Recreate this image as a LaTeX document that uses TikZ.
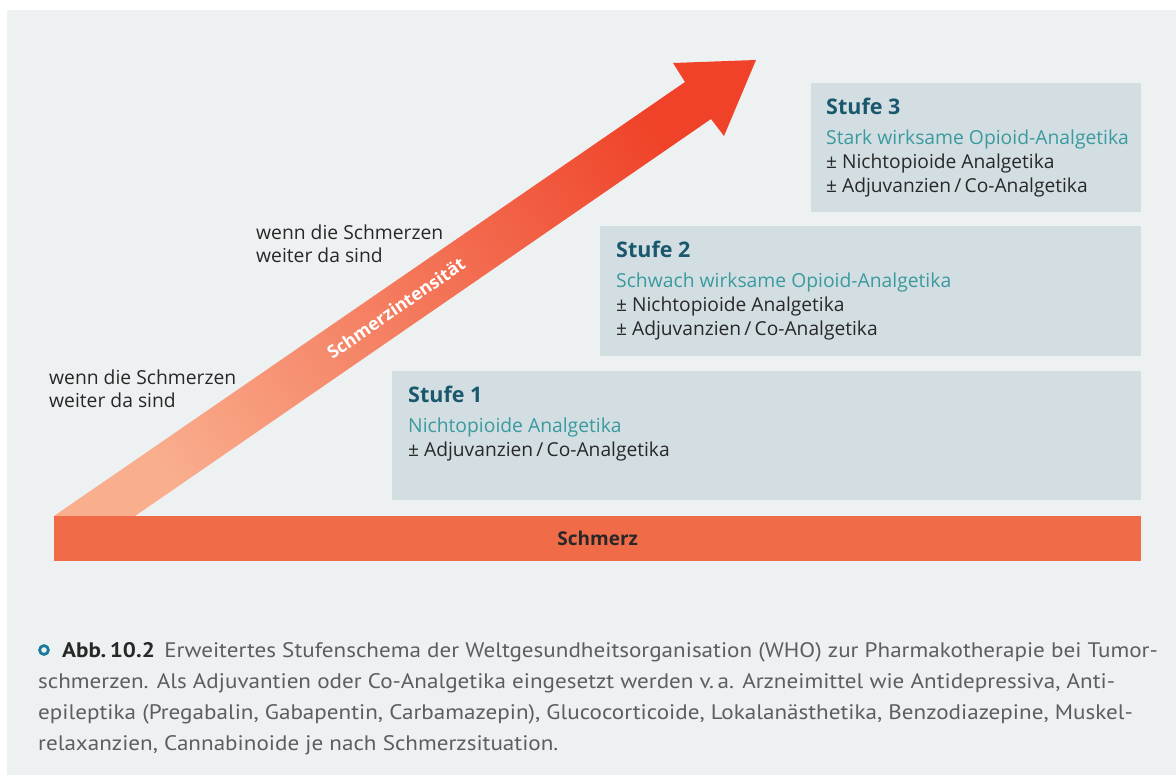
\documentclass[tikz,border=0pt]{standalone}
\usepackage{fontspec}
\setmainfont{Open Sans}
\newfontfamily\capfont[FakeStretch=1.1]{PT Sans}
\usetikzlibrary{calc}
\definecolor{bgc}{RGB}{237,241,242}
\definecolor{boxc}{RGB}{211,222,227}
\definecolor{ttlc}{RGB}{26,88,110}
\definecolor{subc}{RGB}{58,154,158}
\definecolor{txtc}{RGB}{40,40,40}
\definecolor{barc}{RGB}{240,107,72}
\definecolor{arrtop}{RGB}{239,66,40}
\definecolor{arrbot}{RGB}{249,174,142}
\definecolor{capc}{RGB}{92,94,97}
\definecolor{bulc}{RGB}{27,122,154}
\tikzset{
  stbox/.style={fill=boxc, anchor=north west, inner sep=0pt, outer sep=0pt},
  ttl/.style={anchor=base west, inner sep=0pt, text=ttlc, font=\fontsize{21.5}{24}\selectfont\bfseries},
  sub/.style={anchor=base west, inner sep=0pt, text=subc, font=\fontsize{19.3}{22}\selectfont},
  itm/.style={anchor=base west, inner sep=0pt, text=txtc, font=\fontsize{19.2}{22}\selectfont},
  note/.style={anchor=base west, inner sep=0pt, text=txtc, align=left, font=\fontsize{19.3}{23}\selectfont},
  capl/.style={anchor=base west, inner sep=0pt, text=capc, font=\capfont\fontsize{21}{31}\selectfont},
}
\begin{document}
\begin{tikzpicture}[x=1pt,y=-1pt]
\useasboundingbox (0,0) rectangle (1176,776);
\fill[white] (0,0) rectangle (1176,776);
\fill[bgc] (7,10) rectangle (1176,775);
% arrow
\shade[top color=arrtop, bottom color=arrbot, shading angle=-55.4]
  (54,516) -- (685,82) -- (673,63) -- (756,60) -- (724,136) -- (711,119) -- (135,516) -- cycle;
\node[rotate=34.6, text=white, inner sep=0pt, font=\fontsize{17.8}{20}\selectfont\bfseries] (si) at (396,308) {Schmerzintensität};
% bar
\node[fill=barc, anchor=north west, inner sep=0pt, minimum width=1087pt, minimum height=45pt] (bar) at (54,516) {};
\node[inner sep=0pt, text=txtc, font=\fontsize{19}{20}\selectfont\bfseries] (bart) at (bar.center) {Schmerz};
% boxes
\node[stbox, minimum width=749pt, minimum height=129pt] (s1) at (392,371) {};
\node[stbox, minimum width=541pt, minimum height=130pt] (s2) at (600,226) {};
\node[stbox, minimum width=330pt, minimum height=129pt] (s3) at (811,83) {};
% box texts
\node[ttl] (t1) at ($(s1.north west)+(16,31)$) {Stufe 1};
\node[sub] (a1) at ($(s1.north west)+(16,61)$) {Nichtopioide Analgetika};
\node[itm] (b1) at ($(s1.north west)+(16,85)$) {± Adjuvanzien\,/\,Co-Analgetika};
\node[ttl] (t2) at ($(s2.north west)+(16,31)$) {Stufe 2};
\node[sub] (a2) at ($(s2.north west)+(16,61)$) {Schwach wirksame Opioid-Analgetika};
\node[itm] (b2) at ($(s2.north west)+(16,85)$) {± Nichtopioide Analgetika};
\node[itm] (c2) at ($(s2.north west)+(16,109)$) {± Adjuvanzien\,/\,Co-Analgetika};
\node[ttl] (t3) at ($(s3.north west)+(15,31)$) {Stufe 3};
\node[sub] (a3) at ($(s3.north west)+(15,61)$) {Stark wirksame Opioid-Analgetika};
\node[itm] (b3) at ($(s3.north west)+(15,85)$) {± Nichtopioide Analgetika};
\node[itm] (c3) at ($(s3.north west)+(15,109)$) {± Adjuvanzien\,/\,Co-Analgetika};
% notes
\node[note] (n1a) at (49,384) {wenn die Schmerzen};
\node[note] (n1b) at (49,407) {weiter da sind};
\node[note] (n2a) at (256,239) {wenn die Schmerzen};
\node[note] (n2b) at (256,262) {weiter da sind};
% caption
\draw[bulc, line width=2.8pt] (44,650) circle (4.4pt);
\node[capl] (c1) at (62,657) {\textcolor{txtc}{\bfseries Abb.\,10.2}\hspace{0.45em}Erweitertes Stufenschema der Weltgesundheitsorganisation (WHO) zur Pharmakotherapie bei Tumor-};
\node[capl] (c2l) at (38,688) {schmerzen. Als Adjuvantien oder Co-Analgetika eingesetzt werden v.\,a. Arzneimittel wie Antidepressiva, Anti-};
\node[capl] (c3l) at (38,719) {epileptika (Pregabalin, Gabapentin, Carbamazepin), Glucocorticoide, Lokalanästhetika, Benzodiazepine, Muskel-};
\node[capl] (c4l) at (38,750) {relaxanzien, Cannabinoide je nach Schmerzsituation.};
\end{tikzpicture}
\end{document}
